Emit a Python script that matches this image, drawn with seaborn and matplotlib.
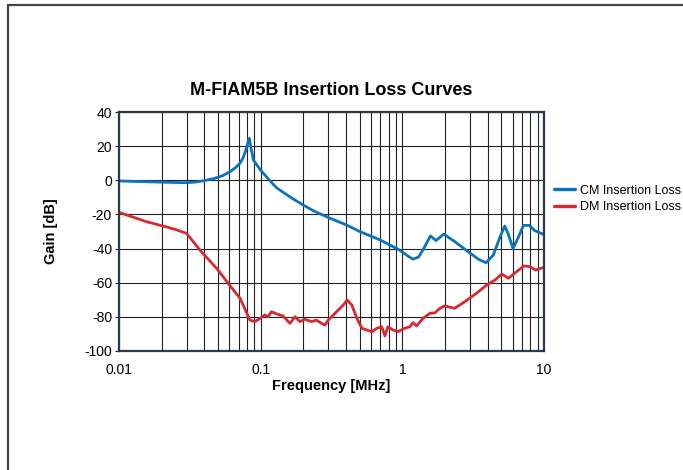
import matplotlib.pyplot as plt
import matplotlib.ticker as mticker
import numpy as np
import pandas as pd
import seaborn as sns
from matplotlib.patches import Rectangle

# values (frequency in MHz, gain in dB)
cm_freq = [0.01, 0.015, 0.02, 0.025, 0.03, 0.035, 0.04, 0.0463, 0.0535, 0.0607,
           0.0665, 0.0714, 0.075, 0.078, 0.081, 0.083, 0.0855, 0.0888, 0.0995,
           0.11, 0.12, 0.13, 0.15, 0.17, 0.2, 0.235, 0.3, 0.404, 0.5, 0.7, 0.96,
           1.1, 1.19, 1.3, 1.40, 1.5, 1.58, 1.73, 1.96, 2.35, 2.85, 3.45, 3.9,
           4.39, 4.9, 5.28, 5.57, 6.04, 6.54, 7.16, 7.9, 8.6, 9.8, 10]
cm_gain = [-0.4, -0.8, -1.1, -1.3, -1.4, -1.0, -0.2, 0.9, 2.6, 5.0,
           7.4, 10.0, 13.0, 16.8, 21.5, 24.6, 19.0, 11.9, 6.1,
           2.0, -1.5, -4.5, -8.0, -11.0, -14.5, -17.8, -21.8, -26.2, -30.0, -35.0, -41.0,
           -44.5, -46.2, -45.0, -40.8, -36.0, -32.6, -35.3, -31.5, -36.0, -41.2, -46.3, -48.3,
           -43.8, -33.0, -26.8, -31.1, -39.9, -34.0, -26.4, -26.4, -29.5, -31.5, -32.0]

dm_freq = [0.01, 0.0157, 0.0205, 0.025, 0.030, 0.0372, 0.0489, 0.0642, 0.0715,
           0.0795, 0.084, 0.091, 0.099, 0.107, 0.113, 0.119, 0.130, 0.144, 0.161,
           0.175, 0.189, 0.205, 0.229, 0.247, 0.269, 0.284, 0.300, 0.343, 0.383,
           0.408, 0.44, 0.478, 0.519, 0.562, 0.610, 0.66, 0.715, 0.754, 0.79,
           0.86, 0.93, 1.04, 1.13, 1.19, 1.26, 1.40, 1.56, 1.70, 1.84, 1.98,
           2.34, 2.76, 3.3, 3.94, 4.5, 5.03, 5.62, 6.3, 7.2, 8.0, 8.7, 10]
dm_gain = [-18.8, -24.3, -26.8, -28.8, -31.1, -40.8, -51.6, -64.3, -69.1,
           -77.5, -81.9, -82.8, -80.9, -78.9, -79.9, -77.0, -78.3, -79.5, -83.8,
           -79.9, -82.8, -81.4, -82.8, -81.9, -83.8, -84.8, -81.9, -77.0, -73.1,
           -70.1, -73.1, -80.9, -86.7, -87.7, -88.7, -86.7, -85.8, -91.2, -85.8,
           -87.7, -88.7, -86.7, -85.8, -83.4, -85.3, -80.9, -78.0, -77.6, -75.0, -73.6,
           -75.0, -71.1, -66.5, -61.3, -58.5, -54.9, -57.4, -54.0, -50.2, -50.6, -52.6, -51.0]

cm_label = "CM Insertion Loss"
dm_label = "DM Insertion Loss"
y_ticks = [40, 20, 0, -20, -40, -60, -80, -100]
x_ticks = [0.01, 0.1, 1, 10]
x_tick_labels = ["0.01", "0.1", "1", "10"]

df = pd.concat(
    [
        pd.DataFrame({"freq": cm_freq, "gain": cm_gain, "curve": cm_label}),
        pd.DataFrame({"freq": dm_freq, "gain": dm_gain, "curve": dm_label}),
    ],
    ignore_index=True,
)

sns.set_theme(style="white")
plt.rcParams["font.family"] = ["Liberation Sans", "DejaVu Sans"]
plt.rcParams["axes.unicode_minus"] = False
plt.rcParams["text.color"] = "black"
plt.rcParams["axes.labelcolor"] = "black"
plt.rcParams["xtick.color"] = "black"
plt.rcParams["ytick.color"] = "black"

fig = plt.figure(figsize=(6.83, 4.7), dpi=100)
ax = fig.add_axes([0.1742, 0.2532, 0.6223, 0.5085])

# outer frame (only left and top edges visible in the reference)
fig.patches.append(
    Rectangle((0.011, -0.1), 1.2, 1.089, transform=fig.transFigure,
              fill=False, edgecolor="#444444", linewidth=1.6)
)

sns.lineplot(
    data=df, x="freq", y="gain", hue="curve", ax=ax,
    palette={cm_label: "#0a72bf", dm_label: "#d92830"},
    linewidth=2.0, sort=False, estimator=None,
)

ax.set_xscale("log")
ax.set_xlim(0.01, 10)
ax.set_ylim(-100, 40)
ax.set_yticks(y_ticks)
ax.set_xticks(x_ticks, labels=x_tick_labels)
ax.xaxis.set_minor_locator(mticker.LogLocator(base=10, subs=np.arange(2, 10)))
ax.xaxis.set_minor_formatter(mticker.NullFormatter())
ax.grid(True, which="major", color="#222222", linewidth=0.8)
ax.grid(True, which="minor", axis="x", color="#222222", linewidth=0.8)
ax.tick_params(axis="y", which="major", left=True, length=3, width=0.8,
               labelsize=10, pad=2, color="#222222")
ax.tick_params(axis="x", which="both", bottom=False, labelsize=10, pad=3)
for spine in ax.spines.values():
    spine.set_visible(True)
    spine.set_color("#2b3a48")
    spine.set_linewidth(1.6)

ax.set_title("M-FIAM5B Insertion Loss Curves", fontsize=13, fontweight="bold", pad=12)
ax.set_xlabel("Frequency [MHz]", fontsize=10.5, fontweight="bold", labelpad=1)
ax.set_ylabel("Gain [dB]", fontsize=10.5, fontweight="bold", labelpad=19)

leg = ax.legend(
    loc="center left", bbox_to_anchor=(1.024, 0.636), frameon=False,
    fontsize=9, handlelength=1.7, handletextpad=0.4, labelspacing=0.35,
    borderaxespad=0, borderpad=0,
)
for line in leg.get_lines():
    line.set_linewidth(2.4)

fig.savefig("out.png", dpi=100)
